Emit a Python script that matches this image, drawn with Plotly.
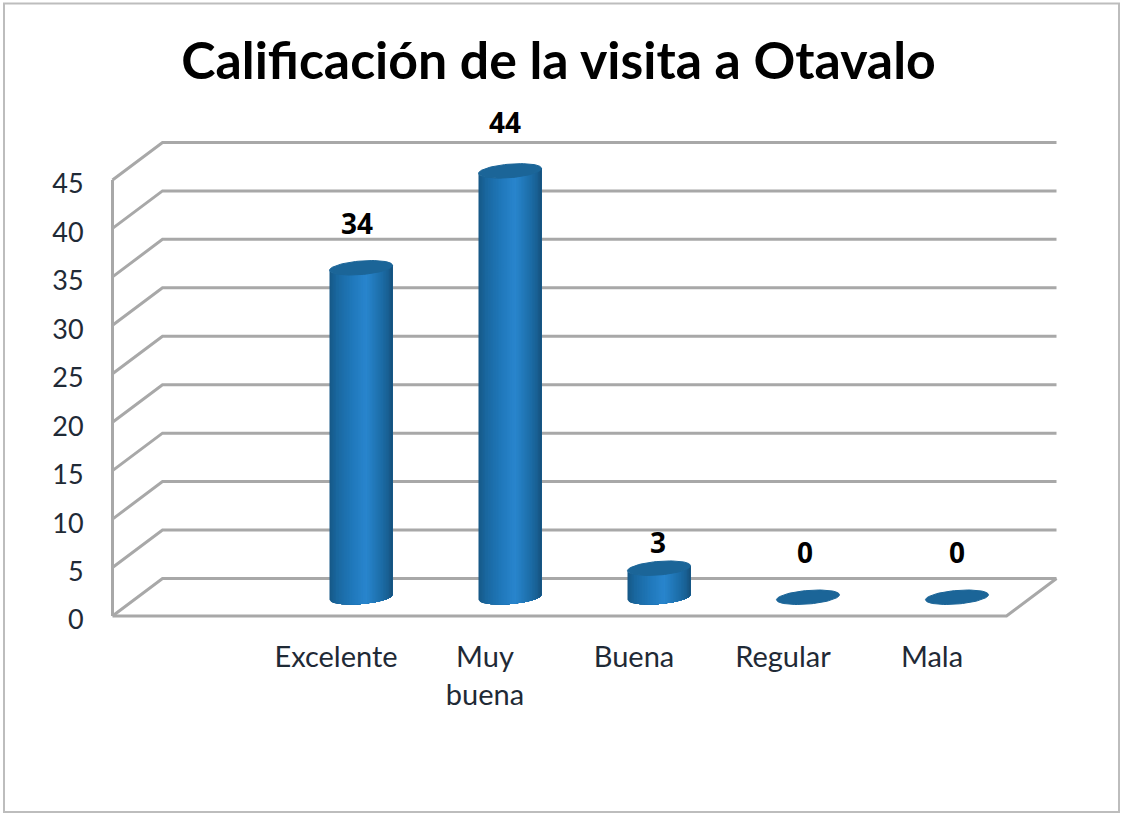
import numpy as np
import plotly.graph_objects as go

# ---- data ----
title = "Calificación de la visita a Otavalo"
categories = ["Excelente", "Muy<br>buena", "Buena", "Regular", "Mala"]
values = [34, 44, 3, 0, 0]
y_ticks = [0, 5, 10, 15, 20, 25, 30, 35, 40, 45]

# ---- layout constants (pixels) ----
W, H = 1121, 814
L, R, T, B = 100, 1070, 100, 630      # plot area
PX_X = 149.0                           # pixels per category
PX_Y = 9.69                            # pixels per value unit
X0_PX, Y0_PX = 336.0, 616.0            # pixel of category 1 / value 0 (front plane)
xr = [(L - X0_PX) / PX_X + 1, (R - X0_PX) / PX_X + 1]
yr = [(Y0_PX - B) / PX_Y, (Y0_PX - T) / PX_Y]

DX, DY = 50.0 / PX_X, 37.5 / PX_Y      # depth offset of back wall
A, BB, S = 31.5 / PX_X, 6.8 / PX_Y, 2.5 / PX_Y  # ellipse half width, half height, tilt
XL, XH = 0 - 0.5, 5 + 0.5              # front plane extent of category axis
GRID = "#a8a8a8"

fig = go.Figure()

# walls / gridlines
gx, gy = [], []
for t in y_ticks:
    gx += [XL, XL + DX, XH + DX, None]
    gy += [t, t + DY, t + DY, None]
gx += [XL, XL, None, XL, XH, XH + DX, None]
gy += [0, 45, None, 0, 0, DY, None]
fig.add_trace(go.Scatter(x=gx, y=gy, mode="lines", line=dict(color=GRID, width=3),
                         hoverinfo="skip", showlegend=False))

# cylinders
stops = [(0.0, (22, 88, 134)), (0.12, (26, 104, 160)), (0.35, (32, 120, 186)),
         (0.58, (41, 134, 206)), (0.80, (30, 112, 172)), (0.93, (25, 96, 148)),
         (1.0, (22, 80, 122))]


def colour(f):
    pos = [s[0] for s in stops]
    return "rgb(%d,%d,%d)" % tuple(np.interp(f, pos, [s[1][k] for s in stops]) for k in range(3))


centres = [c + DX / 2 for c in range(1, len(values) + 1)]
N = 40
edges = np.linspace(-1, 1, N + 1)


def front(u, level):
    return level + DY / 2 + S * u - BB * np.sqrt(np.clip(1 - u ** 2, 0, 1))


# painter's order: every strip reaches the right edge, so no seams show between strips
for k in range(N):
    u = np.linspace(edges[k], 1, N - k + 1)
    xs, ys = [], []
    for c, v in zip(centres, values):
        if v <= 0:
            continue
        xs += list(c + A * u) + list(c + A * u[::-1]) + [None]
        ys += list(front(u, v)) + list(front(u[::-1], 0)) + [None]
    col = colour((k + 0.5) / N)
    fig.add_trace(go.Scatter(x=xs, y=ys, mode="lines", fill="toself", fillcolor=col,
                             line=dict(width=0), hoverinfo="skip", showlegend=False))

th = np.linspace(0, 2 * np.pi, 73)
ex, ey = [], []
for c, v in zip(centres, values):
    ex += list(c + A * np.cos(th)) + [None]
    ey += list(v + DY / 2 + S * np.cos(th) + BB * np.sin(th)) + [None]
fig.add_trace(go.Scatter(x=ex, y=ey, mode="lines", fill="toself", fillcolor="#1b6598",
                         line=dict(color="#1b6598", width=1), hoverinfo="skip", showlegend=False))

# data labels (nudges in pixels, as placed in the source chart)
label_dx = [-4, -5, -1, -3, 0]
label_dy = [41, 45, 22, 41, 41]
fig.add_trace(go.Scatter(
    x=[c + d / PX_X for c, d in zip(centres, label_dx)],
    y=[v + DY / 2 + d / PX_Y for v, d in zip(values, label_dy)],
    mode="text", text=[str(v) for v in values], textposition="middle center", cliponaxis=False,
    textfont=dict(family="Open Sans", size=28, color="#000000", weight="bold"),
    hoverinfo="skip", showlegend=False))

fx = lambda p: (p - L) / (R - L)
fy = lambda p: (B - p) / (B - T)

fig.update_layout(
    width=W, height=H,
    margin=dict(l=L, r=W - R, t=T, b=H - B, pad=0),
    paper_bgcolor="white", plot_bgcolor="white", showlegend=False,
    title=dict(text=title, x=558.5 / W, xanchor="center", y=1 - 61 / H, yanchor="middle",
               font=dict(family="Lato", size=51.8, color="#000000", weight="bold")),
    xaxis=dict(range=xr, tickmode="array", tickvals=list(range(1, 6)), ticktext=categories,
               showgrid=False, zeroline=False, showline=False, ticks="outside", ticklen=1,
               tickcolor="rgba(0,0,0,0)", tickfont=dict(family="Lato", size=29, color="#1f2a36")),
    yaxis=dict(range=yr, tickmode="array", tickvals=y_ticks, showgrid=False, zeroline=False,
               showline=False, ticks="outside", ticklen=10, tickcolor="rgba(0,0,0,0)",
               ticklabelshift=4,
               tickfont=dict(family="Lato", size=27, color="#1f2a36")),
    shapes=[dict(type="rect", xref="paper", yref="paper",
                 x0=fx(4), x1=fx(1119), y0=fy(812), y1=fy(3.5),
                 line=dict(color="#bdbdbd", width=2), layer="below")],
)

fig.write_html("out.html", config={"displayModeBar": False},
               post_script="document.body.style.margin='0';")
